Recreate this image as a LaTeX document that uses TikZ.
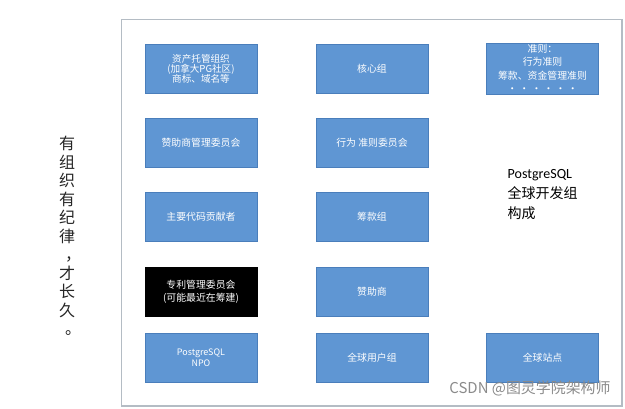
\documentclass[tikz,border=0pt]{standalone}
\usepackage{fontspec}
\setmainfont{Noto Sans CJK SC}
\newfontfamily\latinfont{Carlito}
\usepackage{xcolor}
\usetikzlibrary{positioning,fit}

\definecolor{boxblue}{HTML}{5F96D3}
\definecolor{boxline}{HTML}{4A7EBB}
\definecolor{framegray}{HTML}{B4BCC4}
\definecolor{markgray}{HTML}{8A8A8A}

\begin{document}
\begin{tikzpicture}[x=0.75pt, y=-0.75pt,
        box/.style={rectangle, draw=boxline, fill=boxblue, line width=0.5pt, minimum width=84pt, minimum height=36.75pt, inner sep=1pt, align=center, text=white, font=\fontsize{7.4}{9.5}\selectfont},
        blackbox/.style={box, draw=black, fill=black},
        framebox/.style={rectangle, draw=framegray, line width=1.1pt},
        motto/.style={align=center, font=\fontsize{12}{13.9}\selectfont, text=black!85},
        note/.style={align=left, font=\fontsize{10.5}{15}\selectfont, text=black}
    ]

    % fixes the page to the reference size
    \useasboundingbox (0,0) rectangle (625,409);

    % === Left column ===
    \node[box, font=\fontsize{7.2}{7.6}\selectfont] (asset) at (201, 68.5) {资产托管组织\\(加拿大PG社区)\\商标、域名等};
    \node[box] (sponsorcomm) at (201, 142.5) {赞助商管理委员会};
    \node[box] (contrib) at (201, 216.5) {主要代码贡献者};
    \node[blackbox] (patent) at (201, 292) {专利管理委员会\\(可能最近在筹建)};
    \node[box, font=\fontsize{6.7}{8.3}\selectfont] (npo) at (201, 358) {PostgreSQL\\NPO};

    % === Middle column ===
    \node[box] (core) at (372, 68.5) {核心组};
    \node[box] (conductcomm) at (372, 142.5) {行为 准则委员会};
    \node[box] (fundraise) at (372, 216.5) {筹款组};
    \node[box] (sponsors) at (372, 292) {赞助商};
    \node[box] (usergroups) at (372, 358) {全球用户组};

    % === Right column ===
    \node[box, font=\fontsize{7.4}{10}\selectfont] (rules) at (542.5, 68.5) {准则：\\行为准则\\筹款、资金管理准则\\· · · · · ·};
    \node[note, anchor=west] (title) at (503, 195) {{\latinfont PostgreSQL}\\全球开发组\\构成};
    \node[box] (sites) at (542.5, 358) {全球站点};

    % Frame around all groups
    \node[framebox, fit=(asset)(rules)(npo)(sites), inner sep=17.5pt] (frame) {};

    % Vertical motto on the left
    \node[motto] (mottotext) at (67, 236) {有\\组\\织\\有\\纪\\律\\\hspace*{0.75em}，\\才\\长\\久\\\hspace*{0.75em}。};

    % Watermark
    \node[font=\fontsize{11.2}{12}\selectfont, text=markgray] (watermark) at (530, 388) {CSDN @图灵学院架构师};

\end{tikzpicture}
\end{document}
